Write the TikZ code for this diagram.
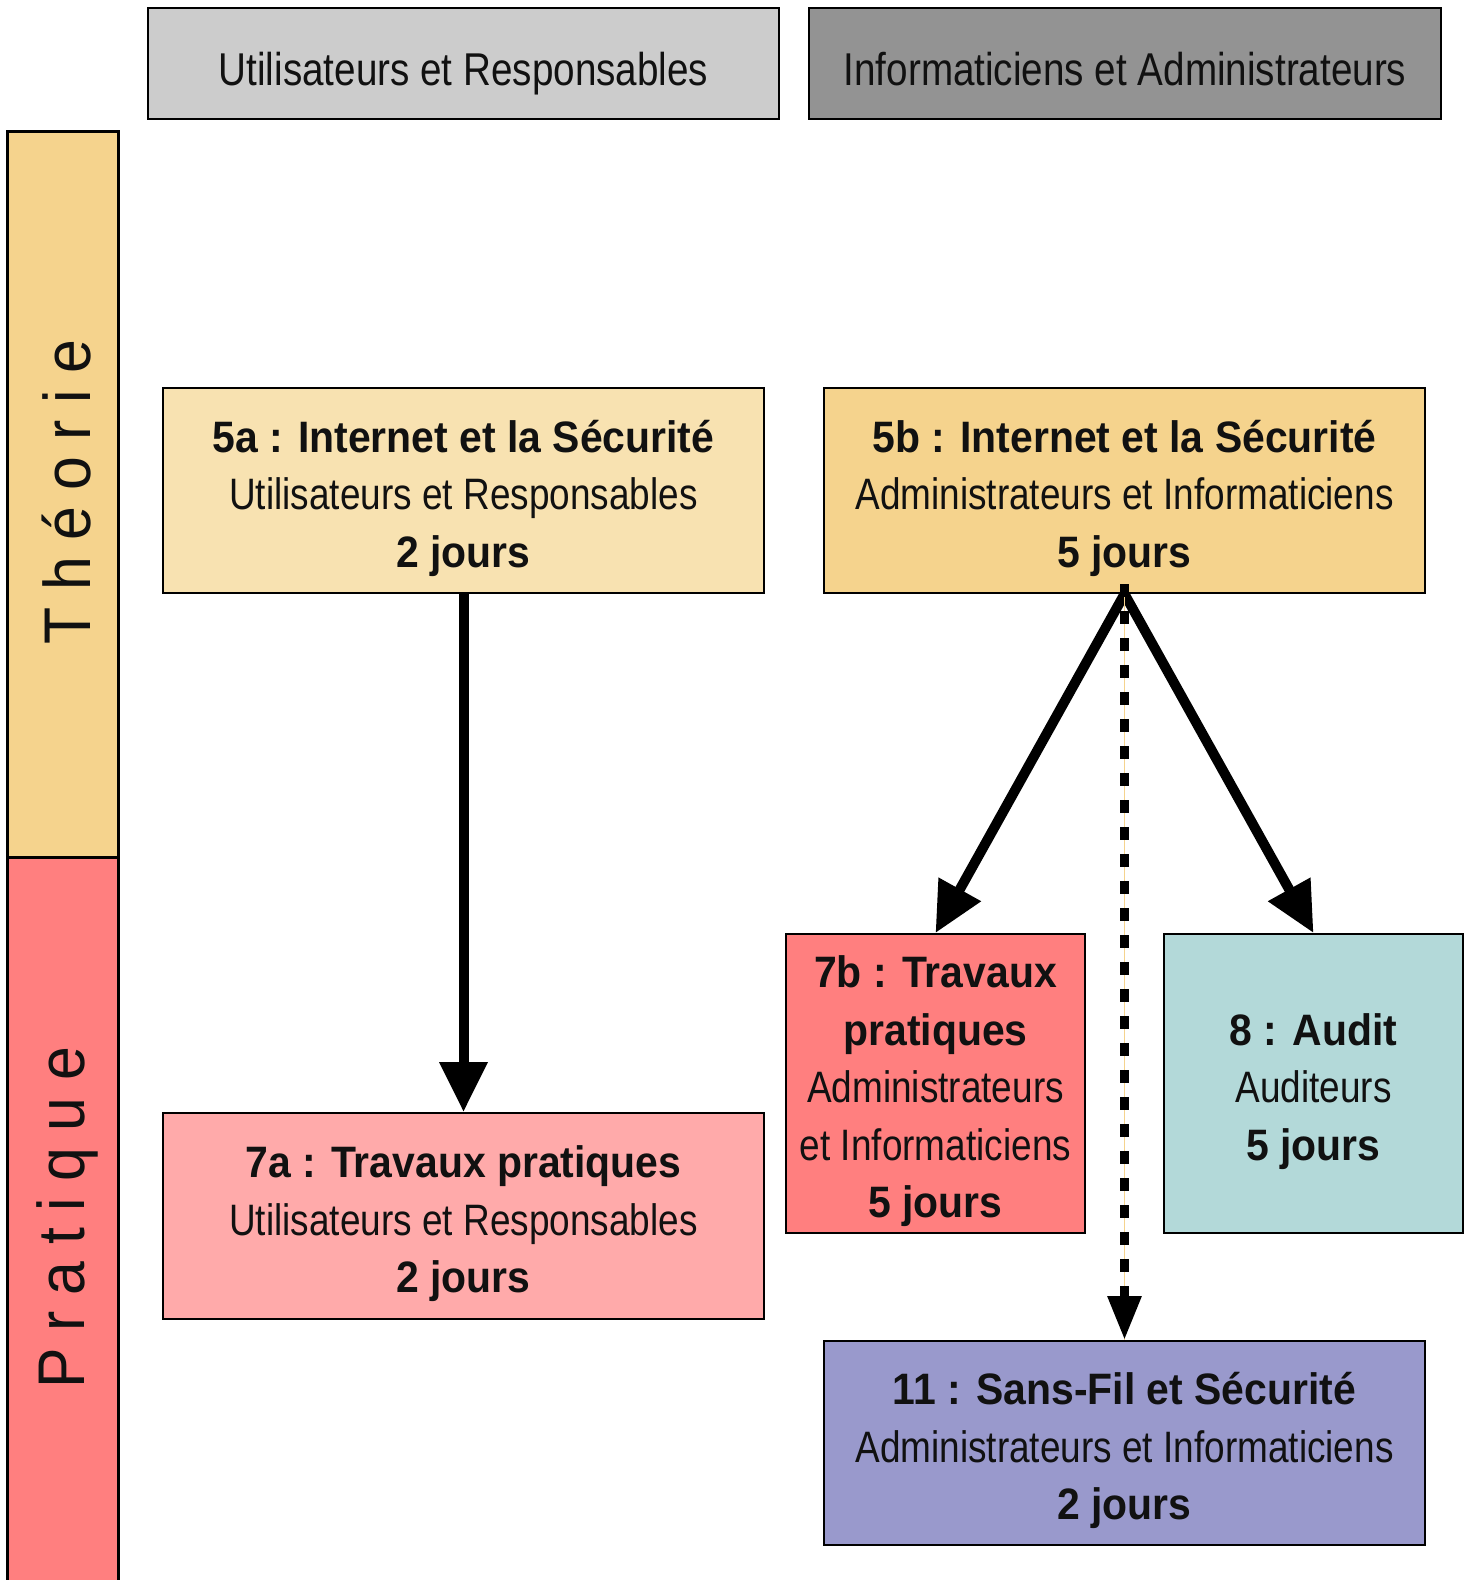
\documentclass[tikz,border=0pt]{standalone}
\usepackage{fontspec}
\setmainfont{Liberation Sans}[FakeStretch=0.84]
\newfontfamily\boldf{Liberation Sans Bold}[FakeStretch=0.93]
\newfontfamily\sidefont{Liberation Sans}[FakeStretch=0.92,LetterSpace=25]
\usetikzlibrary{arrows.meta}
\definecolor{hdrA}{HTML}{CCCCCC}
\definecolor{hdrB}{HTML}{939393}
\definecolor{theo}{HTML}{F5D38D}
\definecolor{prat}{HTML}{FF7F7F}
\definecolor{cA}{HTML}{F8E2B1}
\definecolor{cB}{HTML}{F5D38D}
\definecolor{cC}{HTML}{FFAAAA}
\definecolor{cD}{HTML}{FF7F7F}
\definecolor{cE}{HTML}{B3D9D9}
\definecolor{cF}{HTML}{9999CC}
\definecolor{txt}{HTML}{111111}
\newcommand\bt[1]{{\boldf #1}}
\newcommand\tp{\rule{0pt}{48pt}}
\begin{document}
\begin{tikzpicture}[x=1pt,y=-1pt,
  box/.style={draw=black,line width=2pt,inner sep=0pt,align=center,text=txt,
    font=\fontsize{44}{57.5}\selectfont},
  hdr/.style={draw=black,line width=2pt,inner sep=0pt,text=txt,
    font=\fontsize{46}{57.5}\selectfont,text height=54pt,text depth=10pt},
  bar/.style={draw=black,line width=3pt,inner sep=0pt},
  side/.style={rotate=90,font=\sidefont\fontsize{66}{66}\selectfont,text=txt},
  thick arrow/.style={line width=10pt,-{Triangle[width=46pt,length=50pt]}},
  dot arrow/.style={line width=9pt,dash pattern=on 13pt off 14pt,-{Triangle[width=32pt,length=44pt]}}
]
\useasboundingbox (0,0) rectangle (1468,1580);
\begin{scope}
\clip (0,0) rectangle (1468,1580);
\node[bar,fill=theo,minimum width=111pt,minimum height=726pt] (th) at (62.5,494) {};
\node[bar,fill=prat,minimum width=111pt,minimum height=732pt] (pr) at (62.5,1223) {};
\end{scope}
\node[side] (tht) at (67,492) {Théorie};
\node[side] (prt) at (67,1218) {Pratique};

\node[hdr,fill=hdrA,minimum width=631pt,minimum height=111pt] (h1) at (463.5,63.5) {Utilisateurs et Responsables};
\node[hdr,fill=hdrB,minimum width=632pt,minimum height=111pt] (h2) at (1125,63.5) {Informaticiens et Administrateurs};

\node[box,fill=cA,minimum width=601pt,minimum height=205pt] (a5) at (463.5,490.5)
  {\tp\bt{5a : Internet et la Sécurité}\\Utilisateurs et Responsables\\\bt{2 jours}};
\node[box,fill=cB,minimum width=601pt,minimum height=205pt] (b5) at (1124.5,490.5)
  {\tp\bt{5b : Internet et la Sécurité}\\Administrateurs et Informaticiens\\\bt{5 jours}};
\node[box,fill=cC,minimum width=601pt,minimum height=206pt] (a7) at (463.5,1216)
  {\tp\bt{7a : Travaux pratiques}\\Utilisateurs et Responsables\\\bt{2 jours}};
\node[box,fill=cD,minimum width=299pt,minimum height=299pt] (b7) at (935.5,1083.5)
  {\tp\bt{7b : Travaux}\\\bt{pratiques}\\Administrateurs\\et Informaticiens\\\bt{5 jours}};
\node[box,fill=cE,minimum width=299pt,minimum height=299pt] (c8) at (1313.5,1083.5)
  {\tp\bt{8 : Audit}\\Auditeurs\\\bt{5 jours}};
\node[box,fill=cF,minimum width=601pt,minimum height=204pt] (d11) at (1124.5,1443)
  {\tp\bt{11 : Sans-Fil et Sécurité}\\Administrateurs et Informaticiens\\\bt{2 jours}};

\draw[thick arrow] (a5.south) -- (a7.north);
\draw[thick arrow] (b5.south) -- (b7.north);
\draw[thick arrow] (b5.south) -- (c8.north);
\draw[theo,line width=1.2pt] (b5.south) -- (d11.north);
\draw[dot arrow] ([yshift=10pt]b5.south) -- (d11.north);
\end{tikzpicture}
\end{document}
